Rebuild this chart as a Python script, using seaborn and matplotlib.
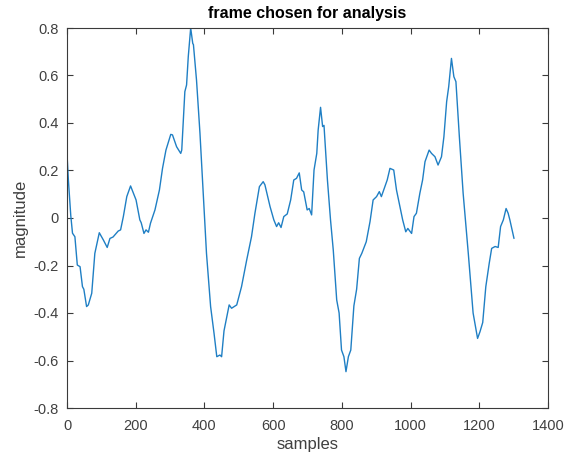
import matplotlib
matplotlib.use("Agg")
import matplotlib.pyplot as plt
import seaborn as sns
import pandas as pd

samples = [0, 4, 11, 16, 23, 30, 38, 45, 49, 57, 62, 72, 81, 94, 106, 117, 125, 134,
           149, 156, 164, 174, 185, 201, 212, 216, 224, 230, 237, 243, 256, 269, 278,
           288, 302, 307, 319, 331, 334, 343, 348, 353, 360, 366, 368, 377, 387, 397,
           406, 418, 428, 436, 445, 450, 457, 465, 472, 479, 494, 508, 523, 537, 547,
           560, 571, 576, 591, 602, 610, 616, 623, 631, 641, 651, 660, 668, 676, 683,
           689, 699, 705, 712, 719, 727, 731, 738, 744, 748, 758, 767, 775, 785, 792,
           799, 806, 812, 819, 826, 835, 843, 851, 858, 871, 882, 891, 901, 909, 915,
           925, 932, 940, 951, 959, 969, 977, 986, 992, 1003, 1010, 1017, 1027, 1035,
           1042, 1054, 1061, 1071, 1080, 1090, 1097, 1105, 1111, 1119, 1126, 1132,
           1142, 1153, 1168, 1182, 1195, 1202, 1210, 1219, 1229, 1236, 1246, 1255,
           1262, 1270, 1278, 1284, 1289, 1301]
magnitude = [0.27, 0.16, 0.01, -0.064, -0.079, -0.198, -0.205, -0.289, -0.30, -0.373,
             -0.366, -0.317, -0.149, -0.062, -0.093, -0.124, -0.086, -0.08, -0.055,
             -0.05, 0.006, 0.09, 0.135, 0.076, -0.008, -0.02, -0.065, -0.05, -0.06,
             -0.022, 0.034, 0.118, 0.209, 0.286, 0.352, 0.35, 0.30, 0.272, 0.286,
             0.532, 0.56, 0.68, 0.80, 0.735, 0.73, 0.58, 0.357, 0.09, -0.149, -0.373,
             -0.486, -0.584, -0.577, -0.584, -0.475, -0.418, -0.366, -0.38, -0.366,
             -0.289, -0.177, -0.079, 0.02, 0.132, 0.153, 0.14, 0.048, -0.008, -0.036,
             -0.02, -0.04, 0.006, 0.017, 0.076, 0.16, 0.167, 0.19, 0.118, 0.11, 0.034,
             0.04, 0.013, 0.202, 0.272, 0.37, 0.466, 0.385, 0.39, 0.16, -0.008, -0.135,
             -0.345, -0.40, -0.556, -0.584, -0.647, -0.584, -0.556, -0.37, -0.30, -0.17,
             -0.149, -0.10, -0.015, 0.076, 0.09, 0.111, 0.09, 0.132, 0.16, 0.209, 0.202,
             0.118, 0.048, -0.008, -0.058, -0.044, -0.065, 0.006, 0.02, 0.104, 0.16,
             0.237, 0.286, 0.272, 0.258, 0.223, 0.258, 0.342, 0.49, 0.553, 0.672, 0.595,
             0.574, 0.342, 0.104, -0.149, -0.40, -0.507, -0.479, -0.44, -0.289, -0.19,
             -0.128, -0.12, -0.124, -0.036, -0.008, 0.04, 0.02, -0.008, -0.086]

x_ticks = [0, 200, 400, 600, 800, 1000, 1200, 1400]
y_ticks = [-0.8, -0.6, -0.4, -0.2, 0, 0.2, 0.4, 0.6, 0.8]
y_tick_labels = ["-0.8", "-0.6", "-0.4", "-0.2", "0", "0.2", "0.4", "0.6", "0.8"]

sns.set_theme(style="white")
plt.rcParams["font.family"] = ["Liberation Sans", "DejaVu Sans"]

df = pd.DataFrame({"samples": samples, "magnitude": magnitude})

fig = plt.figure(figsize=(5.75, 4.57), dpi=100)
ax = fig.add_axes([67 / 575, 1 - 408 / 457, 481 / 575, 380 / 457])
sns.lineplot(data=df, x="samples", y="magnitude", ax=ax, color="#1f7fc4",
             linewidth=1.0, sort=False)

ax.set_xlim(0, 1400)
ax.set_ylim(-0.8, 0.8)
ax.set_xticks(x_ticks)
ax.set_xticklabels([str(t) for t in x_ticks])
ax.set_yticks(y_ticks)
ax.set_yticklabels(y_tick_labels)

axis_color = "#3a3a3a"
label_color = "#404040"
for s in ax.spines.values():
    s.set_visible(True)
    s.set_color(axis_color)
    s.set_linewidth(0.8)
ax.tick_params(direction="in", length=4, width=0.8, color=axis_color,
               labelcolor=label_color, labelsize=10.5, top=True, right=True,
               bottom=True, left=True, pad=6)
ax.tick_params(axis="x", pad=8)

ax.set_xlabel("samples", fontsize=12, color=label_color, labelpad=3)
ax.set_ylabel("magnitude", fontsize=12, color=label_color, labelpad=4)
ax.set_title("frame chosen for analysis", fontsize=11.5, fontweight="bold",
             color="black", pad=7)

fig.savefig("out.png", dpi=100)
